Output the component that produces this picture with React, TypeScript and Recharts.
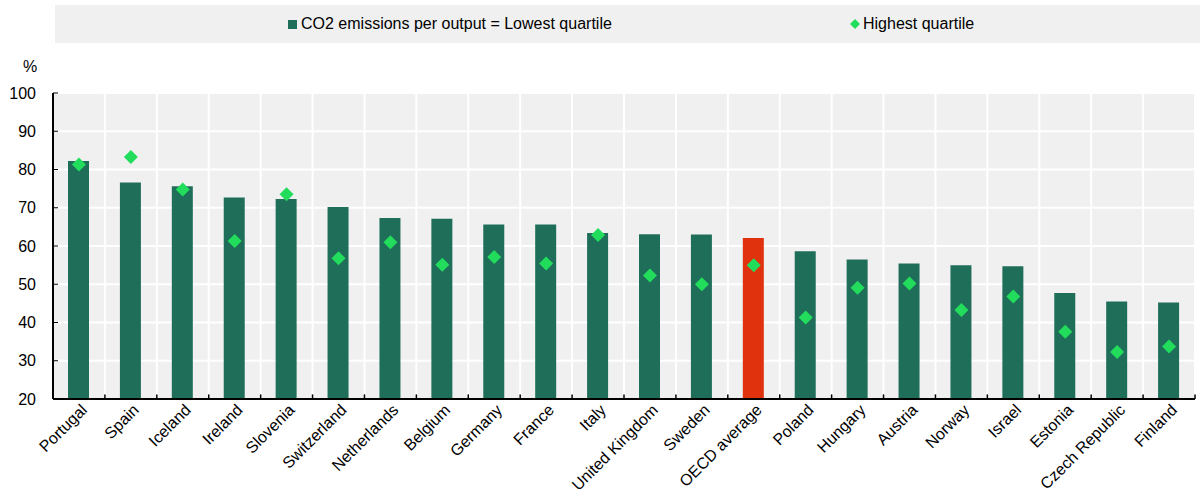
import { ComposedChart, Bar, Scatter, XAxis, YAxis, CartesianGrid, Cell, ReferenceLine } from "recharts";

const countries = ["Portugal", "Spain", "Iceland", "Ireland", "Slovenia", "Switzerland", "Netherlands", "Belgium", "Germany", "France", "Italy", "United Kingdom", "Sweden", "OECD average", "Poland", "Hungary", "Austria", "Norway", "Israel", "Estonia", "Czech Republic", "Finland"];
const lowest = [82.2, 76.6, 75.6, 72.7, 72.3, 70.2, 67.3, 67.1, 65.6, 65.6, 63.4, 63.1, 63.0, 62.1, 58.6, 56.5, 55.4, 55.0, 54.7, 47.7, 45.5, 45.2];
const highest = [81.3, 83.3, 74.8, 61.3, 73.5, 56.8, 61.0, 55.1, 57.1, 55.4, 62.9, 52.3, 50.0, 55.0, 41.3, 49.1, 50.2, 43.3, 46.8, 37.6, 32.3, 33.7];
const yTicks = [20, 30, 40, 50, 60, 70, 80, 90, 100];
const boundaries = countries.map((_, i) => i).concat([countries.length]);

const data = countries.map((name, i) => ({ name, low: lowest[i], high: highest[i] }));

const GREEN = "#1f6e5a";
const RED = "#e0320c";
const DIAMOND = "#22dd5c";
const FONT = "Arial, 'Liberation Sans', sans-serif";

const Diamond = (props: any) => {
  const { cx, cy } = props;
  const r = 7;
  return <polygon points={`${cx},${cy - r} ${cx + r},${cy} ${cx},${cy + r} ${cx - r},${cy}`} fill={DIAMOND} />;
};

const CatTick = (props: any) => {
  const { x, y, payload } = props;
  const ax = x + 6;
  const ay = y + 1;
  return (
    <text x={ax} y={ay} transform={`rotate(-45 ${ax} ${ay})`} textAnchor="end" dominantBaseline="middle" fontSize={16} fontFamily={FONT} fill="#000">
      {payload.value}
    </text>
  );
};

const LegendBox = () => (
  <div style={{ position: "absolute", left: 55, top: 5, background: "#f0f0f0", height: 38, width: 1145, fontFamily: FONT, fontSize: 16, color: "#000" }}>
    <div style={{ position: "absolute", left: 233, top: 10, display: "flex", alignItems: "center" }}>
      <span style={{ width: 9, height: 9, background: GREEN, display: "inline-block", marginRight: 4 }} />
      <span>CO2 emissions per output = Lowest quartile</span>
    </div>
    <div style={{ position: "absolute", left: 795, top: 10, display: "flex", alignItems: "center" }}>
      <svg width={10} height={10} style={{ marginRight: 3 }}><polygon points="5,0 10,5 5,10 0,5" fill={DIAMOND} /></svg>
      <span>Highest quartile</span>
    </div>
  </div>
);

export default function App() {
  return (
    <div style={{ position: "relative", width: 1200, height: 496 }}>
      <style>{`body{margin:0}`}</style>
      <LegendBox />
      <div style={{ position: "absolute", left: 23, top: 58, fontFamily: FONT, fontSize: 16 }}>%</div>
      <ComposedChart width={1200} height={496} data={data} margin={{ top: 93, right: 5, left: 0, bottom: 0 }}>
        <XAxis xAxisId="g" type="number" dataKey={() => 0} domain={[0, countries.length]} ticks={boundaries} hide />
        <XAxis xAxisId="cat" dataKey="name" type="category" height={97} interval={0} tick={<CatTick />} tickLine={false} axisLine={{ stroke: "#000", strokeWidth: 2 }} />
        <YAxis domain={[20, 100]} ticks={yTicks} width={53} interval={0} tickSize={-5} tickMargin={22} tickLine={{ stroke: "#000" }} axisLine={{ stroke: "#000", strokeWidth: 2 }} tick={{ fontSize: 16, fontFamily: FONT, fill: "#000" }} />
        <CartesianGrid xAxisId="g" stroke="#fff" strokeWidth={2} fill="#f0f0f0" />
        {boundaries.map((b) => (
          <ReferenceLine key={b} xAxisId="g" segment={[{ x: b, y: 20 }, { x: b, y: 21.2 }]} stroke="#000" strokeWidth={1.5} ifOverflow="visible" />
        ))}
        <Bar xAxisId="cat" dataKey="low" barSize={21} isAnimationActive={false}>
          {data.map((d) => (
            <Cell key={d.name} fill={d.name === "OECD average" ? RED : GREEN} />
          ))}
        </Bar>
        <Scatter xAxisId="cat" dataKey="high" shape={<Diamond />} isAnimationActive={false} />
      </ComposedChart>
    </div>
  );
}
